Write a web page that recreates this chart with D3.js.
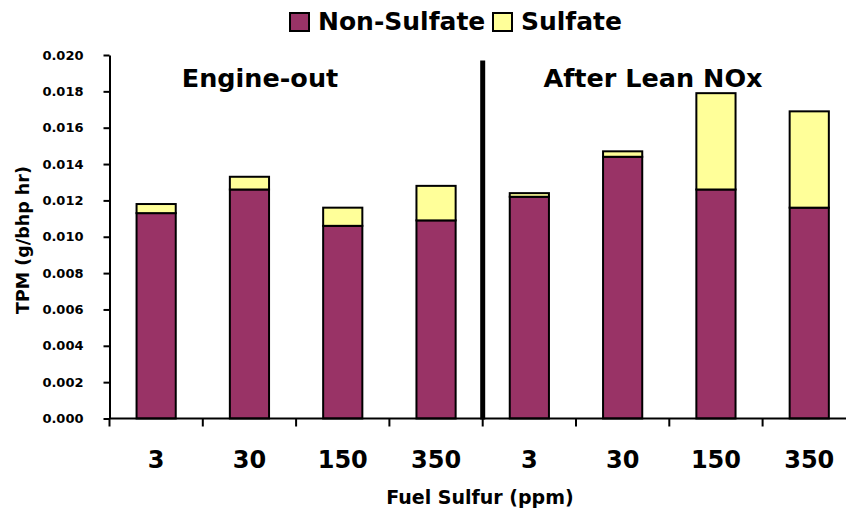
<!DOCTYPE html>
<html>
<head>
<meta charset="utf-8">
<script src="https://cdn.jsdelivr.net/npm/d3@7"></script>
<style>
  html, body { margin: 0; padding: 0; background: #fff; }
  svg { display: block; }
  text { font-family: "DejaVu Sans", Verdana, sans-serif; font-weight: bold; fill: #000; }
</style>
</head>
<body>
<svg id="chart" width="846" height="513"></svg>
<script>
// Fuel sulfur levels, tested engine-out and after the lean NOx catalyst
const groups = ["Engine-out", "After Lean NOx"];
const sulfurLevels = ["3", "30", "150", "350"];
const nonSulfate = [0.0113, 0.0126, 0.0106, 0.0109, 0.0122, 0.0144, 0.0126, 0.0116];
const sulfate    = [0.0005, 0.0007, 0.0010, 0.0019, 0.0002, 0.0003, 0.0053, 0.0053];
const yTicks = [0, 0.002, 0.004, 0.006, 0.008, 0.010, 0.012, 0.014, 0.016, 0.018, 0.020];
const seriesNames = ["Non-Sulfate", "Sulfate"];
const seriesColors = ["#993366", "#FFFF99"];

const rows = [];
groups.forEach((g, gi) => sulfurLevels.forEach((s, si) => {
  const i = gi * sulfurLevels.length + si;
  rows.push({ key: g + "|" + s, group: g, level: s, "Non-Sulfate": nonSulfate[i], "Sulfate": sulfate[i] });
}));

const svg = d3.select("#chart");
const plotLeft = 109.5, plotBottom = 418.5, plotTop = 55;
const step = 93.3;

const x = d3.scaleBand()
  .domain(rows.map(d => d.key))
  .range([plotLeft, plotLeft + step * rows.length])
  .paddingInner(0.58).paddingOuter(0.29);

const y = d3.scaleLinear().domain([0, 0.020]).range([plotBottom, plotTop]);

// stacked bars
const stack = d3.stack().keys(seriesNames)(rows);
const color = d3.scaleOrdinal().domain(seriesNames).range(seriesColors);

svg.append("g").selectAll("g")
  .data(stack).join("g")
  .attr("fill", d => color(d.key))
  .selectAll("rect")
  .data(d => d).join("rect")
  .attr("x", d => x(d.data.key))
  .attr("width", x.bandwidth())
  .attr("y", d => y(d[1]))
  .attr("height", d => y(d[0]) - y(d[1]))
  .attr("stroke", "#000")
  .attr("stroke-width", 2);

// y axis
const yAxis = svg.append("g")
  .attr("transform", `translate(${plotLeft},0)`)
  .call(d3.axisLeft(y).tickValues(yTicks).tickFormat(d3.format(".3f")).tickSize(6).tickPadding(20).tickSizeOuter(0));
yAxis.select(".domain").attr("stroke-width", 2);
yAxis.selectAll(".tick line").attr("stroke-width", 2);
yAxis.selectAll(".tick text").style("font-size", "13px").style("font-family", "DejaVu Sans, sans-serif").style("font-weight", "bold");

// x axis: ticks sit on the category boundaries
const xAxisG = svg.append("g");
xAxisG.append("line")
  .attr("x1", plotLeft).attr("x2", 846)
  .attr("y1", plotBottom).attr("y2", plotBottom)
  .attr("stroke", "#000").attr("stroke-width", 2);
xAxisG.selectAll("line.tick")
  .data(rows.map((d, i) => plotLeft + x.step() * i))
  .join("line").attr("class", "tick")
  .attr("x1", d => d).attr("x2", d => d)
  .attr("y1", plotBottom).attr("y2", plotBottom + 8)
  .attr("stroke", "#000").attr("stroke-width", 2);
xAxisG.selectAll("text")
  .data(rows).join("text")
  .attr("x", d => x(d.key) + x.bandwidth() / 2)
  .attr("y", 468)
  .attr("text-anchor", "middle")
  .style("font-size", "24px")
  .text(d => d.level);

// separator between the two test conditions
const sepX = plotLeft + x.step() * sulfurLevels.length;
svg.append("line")
  .attr("x1", sepX).attr("x2", sepX)
  .attr("y1", y(0.0197)).attr("y2", plotBottom + 1)
  .attr("stroke", "#000").attr("stroke-width", 5);

// group headings
const headingX = [260, 653];
groups.forEach((g, gi) => {
  svg.append("text")
    .attr("x", headingX[gi])
    .attr("y", 87)
    .attr("text-anchor", "middle")
    .style("font-size", "25.5px")
    .text(g);
});

// axis titles
svg.append("text")
  .attr("x", 480).attr("y", 504)
  .attr("text-anchor", "middle")
  .style("font-size", "19px")
  .text("Fuel Sulfur (ppm)");
svg.append("text")
  .attr("transform", "translate(29,240) rotate(-90)")
  .attr("text-anchor", "middle")
  .style("font-size", "17.5px")
  .text("TPM (g/bhp hr)");

// legend
const legendX = [290, 493];
const legend = svg.append("g").selectAll("g")
  .data(seriesNames).join("g")
  .attr("transform", (d, i) => `translate(${legendX[i]},13)`);
legend.append("rect")
  .attr("width", 19).attr("height", 18)
  .attr("fill", d => color(d))
  .attr("stroke", "#000").attr("stroke-width", 2);
legend.append("text")
  .attr("x", 28).attr("y", 16.5)
  .style("font-size", "25px")
  .text(d => d);
</script>
</body>
</html>
